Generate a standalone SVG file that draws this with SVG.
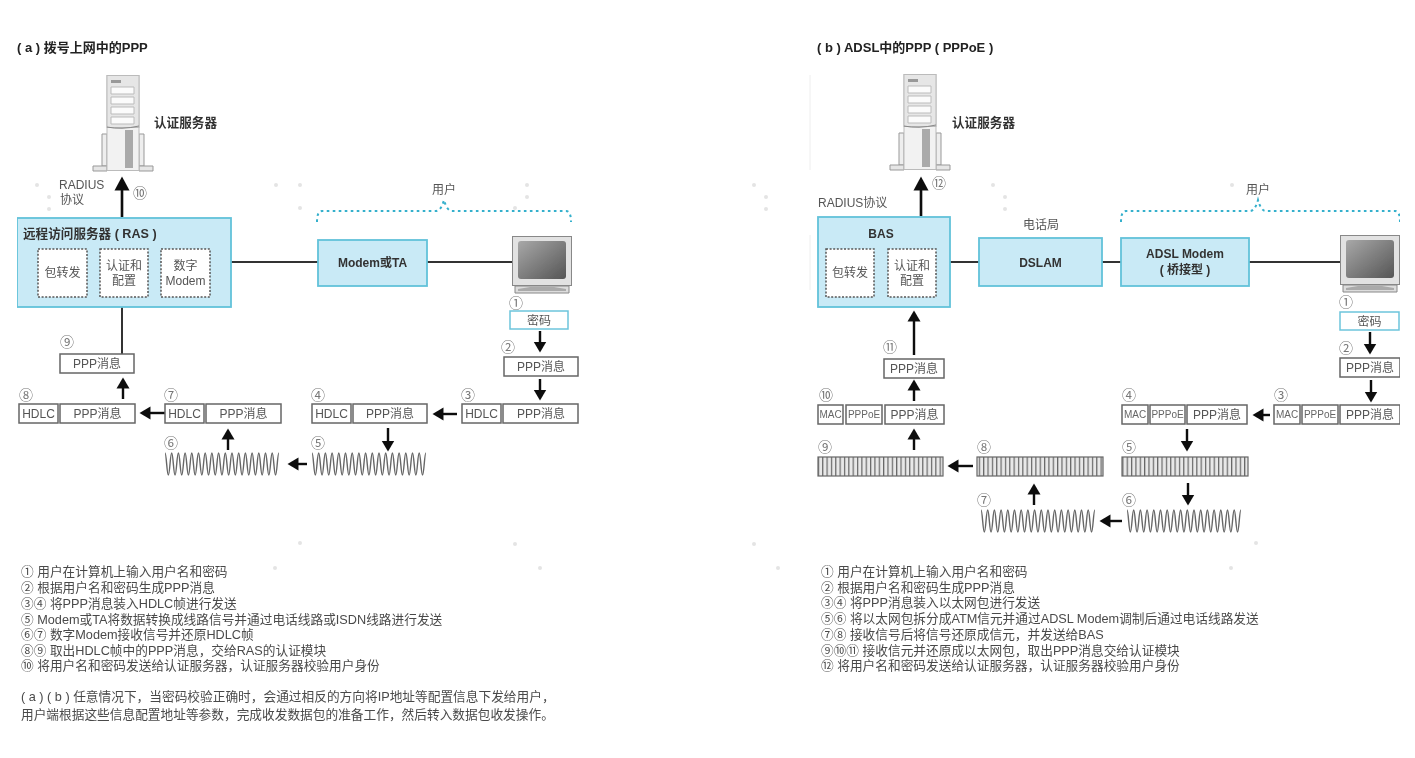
<svg xmlns="http://www.w3.org/2000/svg" width="1415" height="758" viewBox="0 0 1415 758">
<style>
text{font-family:"Liberation Sans","Noto Sans CJK SC",sans-serif;font-size:12px;fill:#555}
.t{fill:#222;font-weight:bold;font-size:13px}
.b{fill:#333;font-weight:bold;font-size:12px}
.c{fill:#333;font-weight:bold;font-size:12.600px}
.m{text-anchor:middle}
.n{font-family:"Noto Sans CJK SC",sans-serif;font-size:14px;fill:#777;text-anchor:middle}
.l{font-size:12.700px;fill:#4a4a4a}
.s{font-size:10px;text-anchor:middle;fill:#666}
.blue{fill:#c9eaf6;stroke:#62c2da;stroke-width:1.8}
.cell{fill:#fff;stroke:#666;stroke-width:1.5}
.pw{fill:#fff;stroke:#6cc5dc;stroke-width:1.5}
.dash{fill:#fff;stroke:#555;stroke-width:1.5;stroke-dasharray:2 1.6}
.brace{fill:none;stroke:#35b0cc;stroke-width:2;stroke-dasharray:2.6 3.4}
.line{fill:none;stroke:#333;stroke-width:2}
.ar{fill:none;stroke:#111;stroke-width:2.4;marker-end:url(#h)}
.ar2{fill:none;stroke:#111;stroke-width:2.6;marker-end:url(#H)}
.wave{fill:none;stroke:#666;stroke-width:1.4}
.atm{fill:url(#cells);stroke:#666;stroke-width:1.2}
.dot{fill:#e4e4e4}
</style>
<defs>
<filter id="soft" x="0" y="0" width="100%" height="100%"><feGaussianBlur stdDeviation="0.35"/></filter>
<marker id="h" markerUnits="userSpaceOnUse" markerWidth="12" markerHeight="14" refX="0.5" refY="7" orient="auto"><path d="M0,0.5L11,7L0,13.5z" fill="#111"/></marker>
<marker id="H" markerUnits="userSpaceOnUse" markerWidth="15" markerHeight="16" refX="0.5" refY="8" orient="auto"><path d="M0,0.5L14,8L0,15.5z" fill="#111"/></marker>
<pattern id="cells" patternUnits="userSpaceOnUse" width="4.35" height="10"><rect width="4.35" height="10" fill="#e8e8e8"/><rect width="1.2" height="10" fill="#666"/></pattern>
<linearGradient id="scr" x1="0" y1="0" x2="1" y2="1"><stop offset="0" stop-color="#a8a8a8"/><stop offset="1" stop-color="#555"/></linearGradient>
<path id="w" d="M0,0c1.4,0 1.9,22 3.35,22s1.9,-22 3.35,-22c1.4,0 1.9,22 3.35,22s1.9,-22 3.35,-22c1.4,0 1.9,22 3.35,22s1.9,-22 3.35,-22c1.4,0 1.9,22 3.35,22s1.9,-22 3.35,-22c1.4,0 1.9,22 3.35,22s1.9,-22 3.35,-22c1.4,0 1.9,22 3.35,22s1.9,-22 3.35,-22c1.4,0 1.9,22 3.35,22s1.9,-22 3.35,-22c1.4,0 1.9,22 3.35,22s1.9,-22 3.35,-22c1.4,0 1.9,22 3.35,22s1.9,-22 3.35,-22c1.4,0 1.9,22 3.35,22s1.9,-22 3.35,-22c1.4,0 1.9,22 3.35,22s1.9,-22 3.35,-22c1.4,0 1.9,22 3.35,22s1.9,-22 3.35,-22c1.4,0 1.9,22 3.35,22s1.9,-22 3.35,-22c1.4,0 1.9,22 3.35,22s1.9,-22 3.35,-22c1.4,0 1.9,22 3.35,22s1.9,-22 3.35,-22c1.4,0 1.9,22 3.35,22s1.9,-22 3.35,-22c1.4,0 1.9,22 3.35,22s1.9,-22 3.35,-22"/>
<g id="srv">
<path d="M9,59h5v32H9zM46,59h5v32h-5z" fill="#eee" stroke="#999"/>
<path d="M0,91h14v5H0zM46,91h14v5H46z" fill="#e6e6e6" stroke="#999"/>
<rect x="14" y="0.5" width="32" height="95" fill="#f2f2f2" stroke="#bbb"/>
<rect x="14" y="0.5" width="32" height="52" fill="#e6e6e6" stroke="#bbb"/>
<rect x="18" y="5" width="10" height="3" fill="#999"/>
<path d="M18,12h23v7H18zM18,22h23v7H18zM18,32h23v7H18zM18,42h23v7H18z" fill="#fbfbfb" stroke="#bbb"/>
<rect x="32" y="55" width="8" height="38" fill="#aaa"/>
<path d="M14,52q14,3 32,-1" fill="none" stroke="#888"/>
</g>
<g id="pc">
<rect x="0.500" y="0.500" width="59" height="49" fill="#e2e2e2" stroke="#888"/>
<rect x="6" y="5" width="48" height="38" rx="3" fill="url(#scr)"/>
<path d="M3,50h54v7H3z" fill="#ddd" stroke="#888"/>
<path d="M6,53l12,-2h24l12,2v2H6z" fill="#aaa"/>
</g>
</defs>
<g filter="url(#soft)">
<g id="specks">
<circle class="dot" cx="37" cy="185" r="2"/><circle class="dot" cx="49" cy="197" r="2"/><circle class="dot" cx="49" cy="209" r="2"/><circle class="dot" cx="276" cy="185" r="2"/><circle class="dot" cx="300" cy="185" r="2"/><circle class="dot" cx="300" cy="208" r="2"/><circle class="dot" cx="527" cy="185" r="2"/><circle class="dot" cx="527" cy="197" r="2"/><circle class="dot" cx="515" cy="208" r="2"/>
<circle class="dot" cx="300" cy="543" r="2"/><circle class="dot" cx="275" cy="568" r="2"/><circle class="dot" cx="515" cy="544" r="2"/><circle class="dot" cx="540" cy="568" r="2"/>
<circle class="dot" cx="754" cy="185" r="2"/><circle class="dot" cx="766" cy="197" r="2"/><circle class="dot" cx="766" cy="209" r="2"/><circle class="dot" cx="993" cy="185" r="2"/><circle class="dot" cx="1005" cy="197" r="2"/><circle class="dot" cx="1005" cy="209" r="2"/><circle class="dot" cx="1232" cy="185" r="2"/>
<circle class="dot" cx="1256" cy="543" r="2"/><circle class="dot" cx="1231" cy="568" r="2"/><circle class="dot" cx="754" cy="544" r="2"/><circle class="dot" cx="778" cy="568" r="2"/>
<path d="M810,75V170M810,235V290" stroke="#eee" fill="none"/>
</g>

<g id="connectors">
<path class="line" d="M231,262H318M427,262H513M122,307V354"/>
<path class="ar2" d="M122,217V190"/>
<path class="ar" d="M540,331V342"/><path class="ar" d="M540,379V390"/><path class="ar" d="M457,414H443"/><path class="ar" d="M388,428V441"/><path class="ar" d="M307,464H298"/><path class="ar" d="M228,450V439"/><path class="ar" d="M165,413H150"/><path class="ar" d="M123,399V388"/>
<path class="line" d="M950,262H979M1102,262H1121M1249,262H1341"/>
<path class="ar2" d="M921,216V190"/>
<path class="ar" d="M914,355V321"/><path class="ar" d="M1370,332V344"/><path class="ar" d="M1371,380V392"/><path class="ar" d="M1270,415H1263"/><path class="ar" d="M1187,429V441"/><path class="ar" d="M1188,483V495"/><path class="ar" d="M1122,521H1110"/><path class="ar" d="M1034,505V494"/><path class="ar" d="M973,466H958"/><path class="ar" d="M914,450V439"/><path class="ar" d="M914,401V390"/>
<path class="brace" d="M317,222Q317,211 322,211H436Q441,211 444,200Q447,211 452,211H566Q571,211 571,222"/>
<path class="brace" d="M1121,222Q1121,211 1126,211H1250Q1255,211 1258,200Q1261,211 1266,211H1395Q1400,211 1400,222"/>
</g>

<g id="panel-a">
<text class="t" x="17" y="52">( a ) 拨号上网中的PPP</text>
<g id="a-server"><use href="#srv" x="93" y="75"/><text class="c" x="154" y="127">认证服务器</text></g>
<g id="a-radius"><text x="59" y="189">RADIUS</text><text x="60" y="204">协议</text></g>
<text class="n" x="140" y="198">⑩</text>
<g id="a-ras"><rect class="blue" x="17" y="218" width="214" height="89"/><text class="c" x="23" y="238">远程访问服务器 ( RAS )</text>
<rect class="dash" x="38" y="249" width="49" height="48"/><text class="m" x="62.500" y="277">包转发</text>
<rect class="dash" x="100" y="249" width="48" height="48"/><text class="m" x="124" y="270">认证和</text><text class="m" x="124" y="285">配置</text>
<rect class="dash" x="161" y="249" width="49" height="48"/><text class="m" x="185.500" y="270">数字</text><text class="m" x="185.500" y="285">Modem</text></g>
<g id="a-modem"><rect class="blue" x="318" y="240" width="109" height="46"/><text class="b m" x="372.500" y="267">Modem或TA</text></g>
<g id="a-user"><text class="m" x="444" y="194">用户</text></g>
<g id="a-pc"><use href="#pc" x="512" y="236"/></g>
<g id="a-s1"><text class="n" x="516" y="308">①</text><rect class="pw" x="510" y="311" width="58" height="18"/><text class="m" x="539" y="325">密码</text></g>
<g id="a-s2"><text class="n" x="508" y="352">②</text><rect class="cell" x="504" y="357" width="74" height="19"/><text class="m" x="541" y="371">PPP消息</text></g>
<g id="a-s3"><text class="n" x="468" y="400">③</text><rect class="cell" x="462" y="404" width="39" height="19"/><text class="m" x="481.500" y="418">HDLC</text><rect class="cell" x="503" y="404" width="75" height="19"/><text class="m" x="541" y="418">PPP消息</text></g>
<g id="a-s4"><text class="n" x="318" y="400">④</text><rect class="cell" x="312" y="404" width="39" height="19"/><text class="m" x="331.500" y="418">HDLC</text><rect class="cell" x="353" y="404" width="74" height="19"/><text class="m" x="390" y="418">PPP消息</text></g>
<g id="a-s5"><text class="n" x="318" y="448">⑤</text><use class="wave" href="#w" x="312" y="453"/></g>
<g id="a-s6"><text class="n" x="171" y="448">⑥</text><use class="wave" href="#w" x="165" y="453"/></g>
<g id="a-s7"><text class="n" x="171" y="400">⑦</text><rect class="cell" x="165" y="404" width="39" height="19"/><text class="m" x="184.500" y="418">HDLC</text><rect class="cell" x="206" y="404" width="75" height="19"/><text class="m" x="243.500" y="418">PPP消息</text></g>
<g id="a-s8"><text class="n" x="26" y="400">⑧</text><rect class="cell" x="19" y="404" width="39" height="19"/><text class="m" x="38.500" y="418">HDLC</text><rect class="cell" x="60" y="404" width="75" height="19"/><text class="m" x="97.500" y="418">PPP消息</text></g>
<g id="a-s9"><text class="n" x="67" y="347">⑨</text><rect class="cell" x="60" y="354" width="74" height="19"/><text class="m" x="97" y="368">PPP消息</text></g>
<g id="a-notes">
<text class="l" x="21" y="576">① 用户在计算机上输入用户名和密码</text>
<text class="l" x="21" y="592">② 根据用户名和密码生成PPP消息</text>
<text class="l" x="21" y="608">③④ 将PPP消息装入HDLC帧进行发送</text>
<text class="l" x="21" y="624">⑤ Modem或TA将数据转换成线路信号并通过电话线路或ISDN线路进行发送</text>
<text class="l" x="21" y="639">⑥⑦ 数字Modem接收信号并还原HDLC帧</text>
<text class="l" x="21" y="655">⑧⑨ 取出HDLC帧中的PPP消息，交给RAS的认证模块</text>
<text class="l" x="21" y="670">⑩ 将用户名和密码发送给认证服务器，认证服务器校验用户身份</text>
<text class="l" x="21" y="701">( a ) ( b ) 任意情况下，当密码校验正确时，会通过相反的方向将IP地址等配置信息下发给用户，</text>
<text class="l" x="21" y="719">用户端根据这些信息配置地址等参数，完成收发数据包的准备工作，然后转入数据包收发操作。</text>
</g>
</g>

<g id="panel-b">
<text class="t" x="817" y="52">( b ) ADSL中的PPP ( PPPoE )</text>
<g id="b-server"><use href="#srv" x="890" y="74"/><text class="c" x="952" y="127">认证服务器</text></g>
<text x="818" y="207">RADIUS协议</text>
<text class="n" x="939" y="188">⑫</text>
<g id="b-bas"><rect class="blue" x="818" y="217" width="132" height="90"/><text class="b m" x="881" y="238">BAS</text>
<rect class="dash" x="826" y="249" width="48" height="48"/><text class="m" x="850" y="277">包转发</text>
<rect class="dash" x="888" y="249" width="48" height="48"/><text class="m" x="912" y="270">认证和</text><text class="m" x="912" y="285">配置</text></g>
<g id="b-dslam"><text class="m" x="1041" y="229">电话局</text><rect class="blue" x="979" y="238" width="123" height="48"/><text class="b m" x="1040.500" y="267">DSLAM</text></g>
<g id="b-modem"><rect class="blue" x="1121" y="238" width="128" height="48"/><text class="b m" x="1185" y="258">ADSL Modem</text><text class="b m" x="1185" y="274">( 桥接型 )</text></g>
<g id="b-user"><text class="m" x="1258" y="194">用户</text></g>
<g id="b-pc"><use href="#pc" x="1340" y="235"/></g>
<g id="b-s1"><text class="n" x="1346" y="307">①</text><rect class="pw" x="1340" y="312" width="59" height="18"/><text class="m" x="1369.500" y="326">密码</text></g>
<g id="b-s2"><text class="n" x="1346" y="353">②</text><rect class="cell" x="1340" y="358" width="60" height="19"/><text class="m" x="1370" y="372">PPP消息</text></g>
<g id="b-s3"><text class="n" x="1281" y="400">③</text><rect class="cell" x="1274" y="405" width="26" height="19"/><text class="s" x="1287" y="418">MAC</text><rect class="cell" x="1302" y="405" width="36" height="19"/><text class="s" x="1320" y="418">PPPoE</text><rect class="cell" x="1340" y="405" width="60" height="19"/><text class="m" x="1370" y="419">PPP消息</text></g>
<g id="b-s4"><text class="n" x="1129" y="400">④</text><rect class="cell" x="1122" y="405" width="26" height="19"/><text class="s" x="1135" y="418">MAC</text><rect class="cell" x="1150" y="405" width="35" height="19"/><text class="s" x="1167.500" y="418">PPPoE</text><rect class="cell" x="1187" y="405" width="60" height="19"/><text class="m" x="1217" y="419">PPP消息</text></g>
<g id="b-s5"><text class="n" x="1129" y="452">⑤</text><rect class="atm" x="1122" y="457" width="126" height="19"/></g>
<g id="b-s6"><text class="n" x="1129" y="505">⑥</text><use class="wave" href="#w" x="1127" y="510"/></g>
<g id="b-s7"><text class="n" x="984" y="505">⑦</text><use class="wave" href="#w" x="981" y="510"/></g>
<g id="b-s8"><text class="n" x="984" y="452">⑧</text><rect class="atm" x="977" y="457" width="126" height="19"/></g>
<g id="b-s9"><text class="n" x="825" y="452">⑨</text><rect class="atm" x="818" y="457" width="125" height="19"/></g>
<g id="b-s10"><text class="n" x="826" y="400">⑩</text><rect class="cell" x="818" y="405" width="25" height="19"/><text class="s" x="830.500" y="418">MAC</text><rect class="cell" x="846" y="405" width="36" height="19"/><text class="s" x="864" y="418">PPPoE</text><rect class="cell" x="885" y="405" width="59" height="19"/><text class="m" x="914.500" y="419">PPP消息</text></g>
<g id="b-s11"><text class="n" x="890" y="352">⑪</text><rect class="cell" x="884" y="359" width="60" height="19"/><text class="m" x="914" y="373">PPP消息</text></g>
<g id="b-notes">
<text class="l" x="821" y="576">① 用户在计算机上输入用户名和密码</text>
<text class="l" x="821" y="592">② 根据用户名和密码生成PPP消息</text>
<text class="l" x="821" y="607">③④ 将PPP消息装入以太网包进行发送</text>
<text class="l" x="821" y="623">⑤⑥ 将以太网包拆分成ATM信元并通过ADSL Modem调制后通过电话线路发送</text>
<text class="l" x="821" y="639">⑦⑧ 接收信号后将信号还原成信元，并发送给BAS</text>
<text class="l" x="821" y="655">⑨⑩⑪ 接收信元并还原成以太网包，取出PPP消息交给认证模块</text>
<text class="l" x="821" y="670">⑫ 将用户名和密码发送给认证服务器，认证服务器校验用户身份</text>
</g>
</g>
</g>
</svg>
